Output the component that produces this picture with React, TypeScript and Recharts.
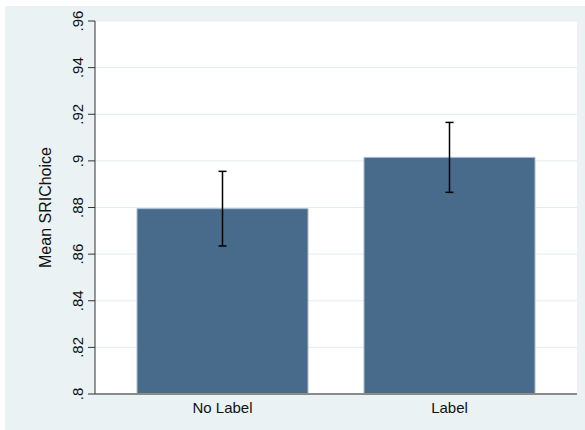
import { BarChart, Bar, XAxis, YAxis, CartesianGrid, ErrorBar, Label } from 'recharts';

const groups = ['No Label', 'Label'];
const means = [0.8795, 0.9015];
const ciLow = [0.8635, 0.8865];
const ciHigh = [0.8955, 0.9165];
const yTicks = [0.8, 0.82, 0.84, 0.86, 0.88, 0.9, 0.92, 0.94, 0.96];

const rows = groups.map((name, i) => ({
  name,
  mean: means[i],
  err: [means[i] - ciLow[i], ciHigh[i] - means[i]],
}));

const fmt = (v: number) => v.toFixed(2).replace(/0+$/, '').replace(/^0/, '');

function YTick({ x, y, payload }: any) {
  const bx = x - 3;
  return (
    <text
      x={bx}
      y={y}
      transform={`rotate(-90, ${bx}, ${y})`}
      textAnchor="middle"
      fontSize={15}
      fill="#111"
      fontFamily="'Liberation Sans', Arial, sans-serif"
    >
      {fmt(payload.value)}
    </text>
  );
}

export default function App() {
  return (
    <div style={{ position: 'absolute', left: 0, top: 0, width: 585, height: 430, background: '#fff' }}>
      <div style={{ position: 'absolute', left: 5, top: 6, width: 580, height: 424, background: '#EAF2F3' }}>
        <BarChart
          width={580}
          height={424}
          data={rows}
          margin={{ top: 15, right: 8, left: 0, bottom: 0 }}
          style={{ fontFamily: "'Liberation Sans', Arial, sans-serif" }}
        >
          <CartesianGrid vertical={false} stroke="#E4EDF0" fill="#fff" />
          <XAxis
            dataKey="name"
            height={36}
            padding={{ left: 14, right: 14 }}
            tickLine={false}
            axisLine={{ stroke: '#8a8a8a', strokeWidth: 2 }}
            tick={{ fontSize: 15, fill: '#111' }}
          />
          <YAxis
            width={90}
            domain={[0.8, 0.96]}
            ticks={yTicks}
            interval={0}
            allowDataOverflow
            tickSize={7}
            tickLine={{ stroke: '#333' }}
            axisLine={{ stroke: '#333' }}
            tick={<YTick />}
          >
            <Label
              value="Mean SRIChoice"
              angle={-90}
              position="center"
              dx={-5}
              style={{ fontSize: 16, fill: '#111' }}
            />
          </YAxis>
          <Bar dataKey="mean" fill="#486B8C" stroke="#A9BBCA" strokeWidth={1} barSize={171} isAnimationActive={false}>
            <ErrorBar dataKey="err" width={4} stroke="#000" strokeWidth={1.5} isAnimationActive={false} />
          </Bar>
        </BarChart>
      </div>
    </div>
  );
}
